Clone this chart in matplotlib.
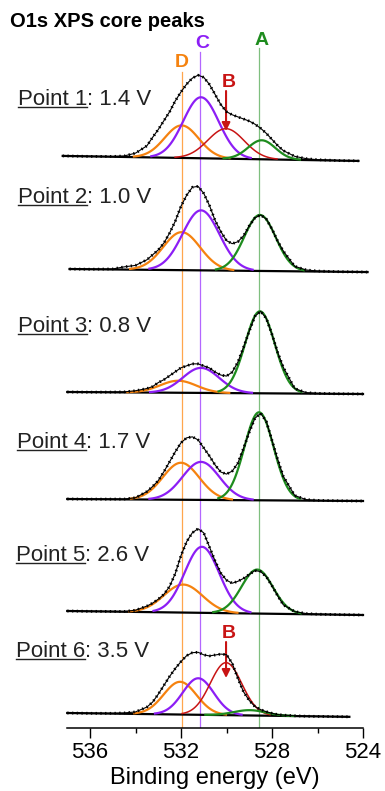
import numpy as np
import matplotlib
matplotlib.use('Agg')
import matplotlib.pyplot as plt

plt.rcParams['font.family'] = ['Liberation Sans', 'DejaVu Sans']

W, H = 385, 791

# energy grid of the measured spectra (eV)
energy = [536.0, 535.0, 534.5, 534.0, 533.5, 533.25, 533.0, 532.75, 532.5, 532.25,
          532.0, 531.75, 531.5, 531.25, 531.0, 530.75, 530.5, 530.25, 530.0, 529.75,
          529.5, 529.25, 529.0, 528.75, 528.5, 528.25, 528.0, 527.75, 527.5, 527.0,
          526.5, 526.0, 525.0]

# measured intensity above background, one list per point (arb. units)
spec_1 = [0, 0.3, 1, 4, 11.5, 20, 28, 37, 46, 57, 66, 74, 80, 83, 81, 74, 64, 54, 47, 44,
          42, 40, 38, 35, 31, 26, 20, 14, 9, 3.5, 1.4, 0.5, 0]
spec_2 = [0, 0.5, 2.7, 4.3, 10, 15, 20, 27, 37, 49, 64, 75, 83, 84, 77, 65, 50, 39, 30, 27,
          29, 35, 45, 53, 56, 52, 42, 30, 20, 5, 1.5, 0.5, 0]
spec_3 = [0, 0.2, 0.5, 1.7, 4, 6, 10, 13, 17, 21, 25, 27, 29, 29, 27, 25, 21, 18, 17, 21,
          31, 46, 62, 77, 82, 75, 59, 41, 26, 5, 1, 0.3, 0]
spec_4 = [0, 0.2, 0.3, 1.7, 8, 13, 19, 28, 38, 48, 57, 62, 63, 60, 52, 44, 35, 28, 26, 29,
          37, 52, 68, 82, 87, 79, 60, 41, 24, 5, 1, 0.3, 0]
spec_5 = [0, 0.2, 0.3, 1.7, 6, 9, 13, 18, 26, 39, 57, 71, 80, 84, 80, 66, 52, 40, 33, 30,
          32, 35, 39, 43, 42, 37, 28, 18, 9, 2.5, 0.7, 0.2, 0]
spec_6 = [0, 0.3, 0.8, 2, 7, 12, 20, 29, 38, 46, 53, 59, 62, 62.5, 60, 59, 60, 61, 60.5, 52,
          37, 23.5, 15, 9, 6, 4, 2.5, 1.3, 0.8, 0.3, 0, 0, 0]
spectra = [spec_1, spec_2, spec_3, spec_4, spec_5, spec_6]

voltages = ['1.4', '1.0', '0.8', '1.7', '2.6', '3.5']
data_start = [537.2, 536.9, 537.0, 537.0, 537.0, 537.0]
data_end = [524.2, 523.8, 524.0, 524.0, 524.0, 524.6]

# background level of each spectrum at 537 eV and 524 eV (offset stack)
bg_left = [572, 459, 336, 229, 117, 15]
bg_right = [567, 456, 334, 227, 113, 11]

# fitted components: centre (eV), height, sigma (eV); nan = not in fit
A_center = [528.45, 528.53, 528.53, 528.57, 528.65, 528.97]
A_height = [19, 56, 82, 88, 44, 5.3]
A_sigma = [0.6, 0.69, 0.65, 0.64, 0.69, 0.7]

B_center = [530.02, np.nan, np.nan, np.nan, np.nan, 530.02]
B_height = [30, 0, 0, 0, 0, 52.5]
B_sigma = [0.8, 0.7, 0.7, 0.7, 0.7, 0.69]

C_center = [531.12, 531.12, 531.12, 531.12, 531.08, 531.24]
C_height = [61, 60, 25, 38, 66, 36.5]
C_sigma = [0.78, 0.81, 0.8, 0.81, 0.76, 0.68]

D_center = [531.97, 531.97, 532.12, 532.0, 531.9, 532.04]
D_height = [32.5, 38, 12, 37, 28, 32.7]
D_sigma = [0.75, 0.81, 0.8, 0.8, 0.85, 0.72]

# reference lines for the peak positions
ref_D, ref_C, ref_A = 531.95, 531.15, 528.57

ORANGE = '#f5820f'
PURPLE = '#8c1ef5'
GREEN = '#1e8c1e'
RED = '#c81414'


def background(i, e):
    e = np.asarray(e, dtype=float)
    return bg_left[i] + (bg_right[i] - bg_left[i]) * (537.0 - e) / 13.0


fig = plt.figure(figsize=(W / 100, H / 100), dpi=100)
ax = fig.add_axes([67.25 / W, 63 / H, 295.75 / W, 728 / H])
ax.set_xlim(537, 524)
ax.set_ylim(0, 728)

# vertical guide lines
ax.plot([ref_D, ref_D], [0, 656], color='#ffa64d', lw=0.9, zorder=1)
ax.plot([ref_C, ref_C], [0, 676], color='#b366ff', lw=0.9, zorder=1)
ax.plot([ref_A, ref_A], [0, 680], color='#7fbf7f', lw=0.9, zorder=1)

comps = [(D_center, D_height, D_sigma, ORANGE, 1.6),
         (C_center, C_height, C_sigma, PURPLE, 1.6),
         (B_center, B_height, B_sigma, RED, 1.1),
         (A_center, A_height, A_sigma, GREEN, 1.6)]

for i, spec in enumerate(spectra):
    e = np.array([data_start[i]] + energy + [data_end[i]])
    h = np.array([0] + spec + [0])
    y = background(i, e) + h

    # background line
    ax.plot([data_start[i], data_end[i]], background(i, [data_start[i], data_end[i]]),
            color='black', lw=1.6, zorder=2, clip_on=False)

    for cen, hgt, sig, col, lw in comps:
        c, a, s = cen[i], hgt[i], sig[i]
        if np.isnan(c):
            continue
        ec = np.linspace(c - 2.8 * s, c + 2.8 * s, 120)
        ax.plot(ec, background(i, ec) + a * np.exp(-0.5 * ((ec - c) / s) ** 2),
                color=col, lw=lw, zorder=3)

    # measured data: thin line with dots
    ax.plot(e, y, color='black', lw=0.8, zorder=4, clip_on=False)
    ax.plot(e, y, color='black', lw=2.0, ls=(0, (0.5, 1.2)), zorder=4, clip_on=False)

# peak letters
ax.text(531.97, 728 - 66.7, 'D', color=ORANGE, fontsize=14, fontweight='bold',
        ha='center', va='baseline')
ax.text(531.05, 728 - 47.7, 'C', color=PURPLE, fontsize=14, fontweight='bold',
        ha='center', va='baseline')
ax.text(528.45, 728 - 45, 'A', color=GREEN, fontsize=14, fontweight='bold',
        ha='center', va='baseline')
ax.text(529.88, 728 - 87.3, 'B', color=RED, fontsize=14, fontweight='bold',
        ha='center', va='baseline')
ax.text(529.88, 728 - 638.3, 'B', color=RED, fontsize=14, fontweight='bold',
        ha='center', va='baseline')

# arrows marking B
for tail, tip in [(637, 597), (86, 50)]:
    ax.annotate('', xy=(530.02, tip), xytext=(530.02, tail),
                arrowprops=dict(arrowstyle='-|>', color=RED, lw=1.5, mutation_scale=12,
                                shrinkA=0, shrinkB=0))

# axis styling
for side in ['left', 'right', 'top']:
    ax.spines[side].set_visible(False)
ax.spines['bottom'].set_linewidth(1.1)
ax.set_yticks([])
ax.set_xticks([536, 532, 528, 524])
ax.set_xticks([534, 530, 526], minor=True)
ax.tick_params(axis='x', which='major', direction='out', length=7.2, width=1.0,
               labelsize=16, pad=3)
ax.tick_params(axis='x', which='minor', direction='out', length=3.6, width=1.0)
ax.set_xlabel('Binding energy (eV)', fontsize=17, labelpad=3)

# title
fig.text(10 / W, 1 - 26.7 / H, 'O1s XPS core peaks', fontsize=14.5, fontweight='bold',
         ha='left', va='baseline')

# point labels with underlined name
label_rows = [105, 202.7, 331.7, 448.3, 560.7, 656.7]
label_x = [18, 18, 18, 17, 16, 16]
renderer = fig.canvas.get_renderer()
for i, v in enumerate(voltages):
    t = fig.text(label_x[i] / W, 1 - label_rows[i] / H, f'Point {i + 1}', fontsize=16,
                 color='#222222', ha='left', va='baseline')
    bb = t.get_window_extent(renderer)
    fig.text(bb.x1 / W, 1 - label_rows[i] / H, f': {v} V', fontsize=16,
             color='#222222', ha='left', va='baseline')
    uy = 1 - (label_rows[i] + 2.2) / H
    fig.add_artist(plt.Line2D([bb.x0 / W, bb.x1 / W], [uy, uy], color='#222222', lw=1.0))

fig.savefig('out.png', dpi=100)
